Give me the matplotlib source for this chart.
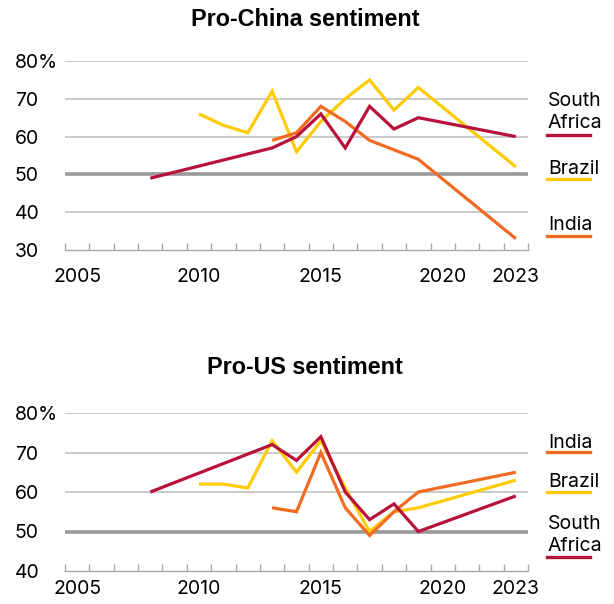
import matplotlib
matplotlib.use('Agg')
import matplotlib.pyplot as plt
from matplotlib.lines import Line2D

plt.rcParams['font.family'] = ['Inter', 'DejaVu Sans']

# ---- data ----
china_sa_years = [2008, 2013, 2014, 2015, 2016, 2017, 2018, 2019, 2023]
china_sa = [49, 57, 60, 66, 57, 68, 62, 65, 60]
china_br_years = [2010, 2011, 2012, 2013, 2014, 2015, 2016, 2017, 2018, 2019, 2023]
china_br = [66, 63, 61, 72, 56, 64, 70, 75, 67, 73, 52]
china_in_years = [2013, 2014, 2015, 2016, 2017, 2019, 2023]
china_in = [59, 61, 68, 64, 59, 54, 33]

us_sa_years = [2008, 2013, 2014, 2015, 2016, 2017, 2018, 2019, 2023]
us_sa = [60, 72, 68, 74, 60, 53, 57, 50, 59]
us_br_years = [2010, 2011, 2012, 2013, 2014, 2015, 2016, 2017, 2018, 2019, 2023]
us_br = [62, 62, 61, 73, 65, 73, 61, 50, 55, 56, 63]
us_in_years = [2013, 2014, 2015, 2016, 2017, 2018, 2019, 2023]
us_in = [56, 55, 70, 56, 49, 55, 60, 65]

x_labels = [2005, 2010, 2015, 2020, 2023]
china_yticks = [30, 40, 50, 60, 70, 80]
us_yticks = [40, 50, 60, 70, 80]

C_SA = '#B8113A'
C_BR = '#FFCB05'
C_IN = '#F26B21'

W, H = 614, 604
fig = plt.figure(figsize=(W / 100, H / 100), dpi=100)


def make_axes(rect_px, yticks, series, title, title_y, xpad):
    x0, ytop, x1, ybot = rect_px
    ax = fig.add_axes([x0 / W, 1 - ybot / H, (x1 - x0) / W, (ybot - ytop) / H])
    ax.set_xlim(2004.5, 2023.5)
    ax.set_ylim(yticks[0], yticks[-1])
    for s in ['top', 'right', 'left']:
        ax.spines[s].set_visible(False)
    ax.spines['bottom'].set_color('#aaaaaa')
    ax.spines['bottom'].set_linewidth(1.0)
    ax.set_xticks(x_labels)
    ax.set_xticklabels([str(v) for v in x_labels])
    ax.set_xticks([y + 0.5 for y in range(2004, 2024)], minor=True)
    ax.tick_params(axis='x', which='major', length=0, labelsize=14, pad=xpad)
    ax.tick_params(axis='x', which='minor', direction='in', length=5, color='#aaaaaa', width=1)
    ax.set_yticks(yticks)
    labs = [str(v) for v in yticks]
    labs[-1] = labs[-1] + '%'
    ax.set_yticklabels(labs)
    ax.tick_params(axis='y', length=0, labelsize=14, pad=36)
    for t in ax.get_yticklabels():
        t.set_horizontalalignment('left')
    for v in yticks[1:]:
        if v == 50:
            ax.axhline(v, color='#9a9a9a', lw=2.6, zorder=1)
        else:
            ax.axhline(v, color='#c6c6c6', lw=1.3, zorder=1)
    for (xs, ys, c) in series:
        ax.plot(xs, ys, color=c, lw=2.3, solid_joinstyle='miter',
                solid_capstyle='butt', zorder=3, clip_on=False)
    fig.text(305 / W, 1 - title_y / H, title, ha='center', va='center',
             fontsize=16.8, fontweight='bold', family=['Liberation Sans', 'DejaVu Sans'])
    return ax


make_axes((65, 61, 528, 250), china_yticks,
          [(china_br_years, china_br, C_BR), (china_in_years, china_in, C_IN),
           (china_sa_years, china_sa, C_SA)],
          'Pro-China sentiment', 20, 13)
make_axes((65, 413, 528, 571), us_yticks,
          [(us_br_years, us_br, C_BR), (us_in_years, us_in, C_IN),
           (us_sa_years, us_sa, C_SA)],
          'Pro-US sentiment', 368, 6.5)


def legend_label(text, y_center, y_line, color):
    fig.text(548 / W, 1 - y_center / H, text, ha='left', va='center',
             fontsize=14, linespacing=1.25)
    fig.add_artist(Line2D([547 / W, 590 / W], [1 - y_line / H, 1 - y_line / H],
                          color=color, lw=2.4, transform=fig.transFigure))


legend_label('South\nAfrica', 112, 135, C_SA)
legend_label('Brazil', 169, 179, C_BR)
legend_label('India', 225, 236, C_IN)

legend_label('India', 443, 452, C_IN)
legend_label('Brazil', 482, 492, C_BR)
legend_label('South\nAfrica', 535, 557, C_SA)

fig.savefig('out.png', dpi=100, facecolor='white')
